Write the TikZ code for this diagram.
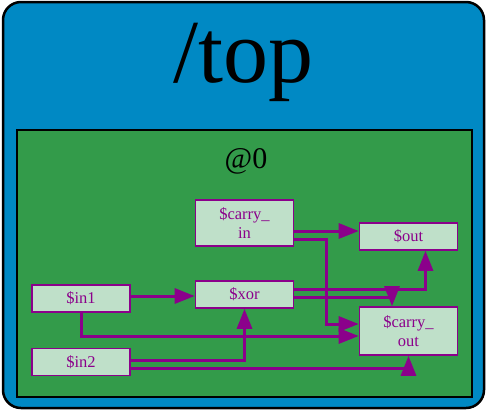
\documentclass[tikz,border=0pt]{standalone}
\usepackage{fontspec}
\setmainfont{Liberation Serif}
\usetikzlibrary{arrows.meta}
\definecolor{TopBlue}{HTML}{0089C4}
\definecolor{CellGreen}{HTML}{339B4A}
\definecolor{PortFill}{HTML}{BFE0C9}
\definecolor{WirePurple}{HTML}{8B008B}

\begin{document}
\begin{tikzpicture}[x=1pt,y=-1pt,
  port/.style={draw=WirePurple,line width=1.6pt,fill=PortFill,text=WirePurple,align=center,font=\fontsize{16.5}{19.5}\selectfont,minimum width=98pt,minimum height=27pt,inner sep=0pt},
  wire/.style={-{Triangle[length=20pt,width=15pt]},line width=3pt,WirePurple}
]
  \useasboundingbox (0,0) rectangle (486,410);
  \draw[line width=2.5pt,fill=TopBlue,rounded corners=18pt] (3,2) rectangle (484,408);
  \node[font=\fontsize{90}{90}\selectfont,anchor=base] (top) at (243.5,82) {/top};
  \draw[line width=2.5pt,fill=CellGreen] (17,130) rectangle (472,397);
  \node[font=\fontsize{30}{30}\selectfont,anchor=base] (inst) at (246,168) {@0};

  % ports and cells
  \node[port,minimum height=46pt] (carryin) at (244.5,223) {\$carry\_\\in};
  \node[port] (out) at (408.5,236.5) {\$out};
  \node[port] (in1) at (81,298.5) {\$in1};
  \node[port] (xor) at (244.5,294.5) {\$xor};
  \node[port,minimum height=48pt] (carryout) at (408.5,331) {\$carry\_\\out};
  \node[port] (in2) at (81,362) {\$in2};

  % wires
  \draw[wire] ([yshift=-8pt]carryin.east) -- ([yshift=-8pt]carryin.east -| out.west);
  \draw[wire] ([yshift=-16pt]carryin.east) -| ([xshift=-32pt,yshift=7pt]carryout.west) -- ([yshift=7pt]carryout.west);
  \draw[wire] ([yshift=5.5pt]xor.east) -| ([xshift=17pt]out.south);
  \draw[wire] ([yshift=-3pt]xor.east) -| ([xshift=-16.5pt]carryout.north);
  \draw[wire] ([yshift=2.5pt]in1.east) -- ([yshift=2.5pt]in1.east -| xor.west);
  \draw[wire] (in1.south) |- ([yshift=-5pt]carryout.west);
  \draw[wire] ([yshift=1.3pt]in2.east) -| (xor.south);
  \draw[wire] ([yshift=-6pt]in2.east) -| (carryout.south);
\end{tikzpicture}
\end{document}
